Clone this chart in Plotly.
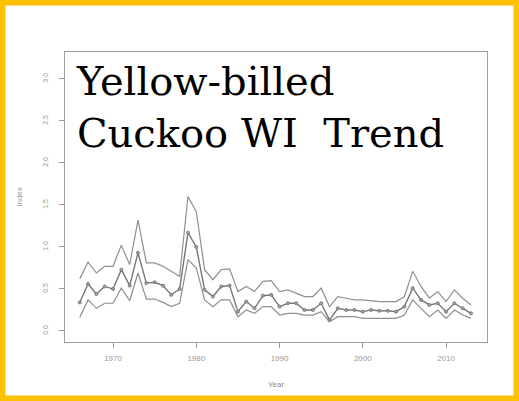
import plotly.graph_objects as go

years = list(range(1966, 2014))
mean_index = [0.34, 0.56, 0.44, 0.53, 0.50, 0.73, 0.54, 0.93, 0.57, 0.58,
              0.54, 0.43, 0.50, 1.17, 1.00, 0.49, 0.41, 0.53, 0.54, 0.23,
              0.35, 0.27, 0.42, 0.43, 0.29, 0.33, 0.33, 0.25, 0.25, 0.33,
              0.13, 0.27, 0.25, 0.25, 0.23, 0.25, 0.24, 0.24, 0.23, 0.29,
              0.51, 0.37, 0.31, 0.33, 0.23, 0.33, 0.27, 0.21]
upper_ci = [0.62, 0.82, 0.69, 0.77, 0.77, 1.02, 0.79, 1.32, 0.81, 0.81,
            0.77, 0.71, 0.65, 1.60, 1.42, 0.73, 0.61, 0.73, 0.74, 0.47,
            0.53, 0.47, 0.59, 0.60, 0.47, 0.49, 0.45, 0.41, 0.41, 0.51,
            0.29, 0.41, 0.39, 0.37, 0.37, 0.36, 0.35, 0.35, 0.35, 0.41,
            0.71, 0.53, 0.39, 0.47, 0.35, 0.49, 0.39, 0.31]
lower_ci = [0.16, 0.37, 0.27, 0.33, 0.33, 0.51, 0.36, 0.69, 0.38, 0.38,
            0.34, 0.29, 0.33, 0.85, 0.75, 0.37, 0.29, 0.37, 0.37, 0.17,
            0.25, 0.21, 0.29, 0.29, 0.19, 0.21, 0.21, 0.19, 0.19, 0.23,
            0.11, 0.17, 0.17, 0.17, 0.15, 0.15, 0.15, 0.15, 0.15, 0.19,
            0.37, 0.27, 0.17, 0.25, 0.15, 0.25, 0.19, 0.15]
x_ticks = [1970, 1980, 1990, 2000, 2010]
y_ticks = [0.0, 0.5, 1.0, 1.5, 2.0, 2.5, 3.0]
y_tick_labels = ["0.0", "0.5", "1.0", "1.5", "2.0", "2.5", "3.0"]
title_text = "Yellow-billed<br>Cuckoo WI\u00a0\u00a0Trend"

line_col = "#8f8f8f"
fig = go.Figure()
fig.add_trace(go.Scatter(x=years, y=upper_ci, mode="lines",
                         line=dict(color=line_col, width=1.2), showlegend=False))
fig.add_trace(go.Scatter(x=years, y=lower_ci, mode="lines",
                         line=dict(color=line_col, width=1.2), showlegend=False))
fig.add_trace(go.Scatter(x=years, y=mean_index, mode="lines+markers",
                         line=dict(color="#777777", width=1.4),
                         marker=dict(size=3, color="#aaaaaa",
                                     line=dict(color="#777777", width=1)),
                         showlegend=False))

W, H = 519, 401
L, R, T, B = 65, 32, 52, 59
pw, ph = W - L - R, H - T - B

fig.update_layout(
    width=W, height=H,
    margin=dict(l=L, r=R, t=T, b=B),
    paper_bgcolor="white", plot_bgcolor="white",
    font=dict(family="Liberation Sans, Arial, sans-serif", color="#999999"),
    xaxis=dict(range=[1964.23, 2014.92], tickvals=x_ticks,
               ticks="outside", ticklen=5, tickcolor="#999999",
               ticklabelstandoff=3,
               showline=True, linecolor="#a0a0a0", linewidth=1, mirror=True,
               showgrid=False, zeroline=False, tickfont=dict(size=8, color="#999999"),
               title=dict(text="Year", font=dict(size=8, color="#888888"), standoff=19)),
    yaxis=dict(range=[-0.131, 3.32], tickvals=y_ticks, ticktext=y_tick_labels,
               tickangle=-90, ticklabelstandoff=8,
               ticks="outside", ticklen=5, tickcolor="#999999",
               showline=True, linecolor="#a0a0a0", linewidth=1, mirror=True,
               showgrid=False, zeroline=False, tickfont=dict(size=7, color="#999999"),
               title=dict(text="Index", font=dict(size=8, color="#999999"), standoff=18)),
    annotations=[dict(text=title_text, xref="paper", yref="paper",
                      x=(74 - L) / pw, y=1 - (56 - T) / ph,
                      xanchor="left", yanchor="top", align="left", showarrow=False,
                      font=dict(family="DejaVu Serif, serif", size=40, color="black"))],
    shapes=[dict(type="rect", xref="paper", yref="paper",
                 x0=-L / pw, x1=1 + R / pw, y0=-B / ph, y1=1 + T / ph,
                 line=dict(color="#FFC000", width=11), fillcolor="rgba(0,0,0,0)",
                 layer="above")],
)

fig.write_html("out.html")
